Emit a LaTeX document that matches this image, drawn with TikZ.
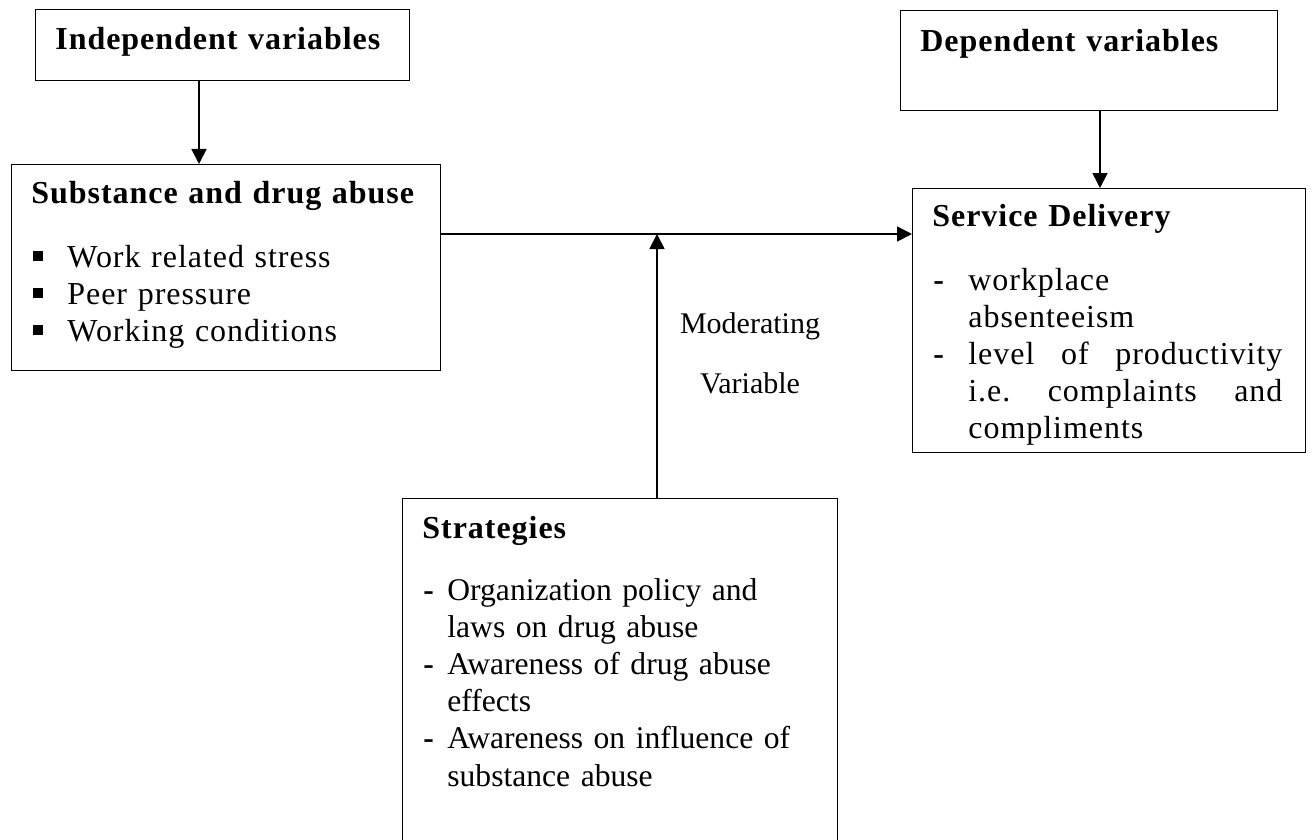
\documentclass[tikz,border=0pt]{standalone}
\usepackage{fontspec}
\setmainfont{Liberation Serif}
\newfontfamily\spc[LetterSpace=3]{Liberation Serif}
\usetikzlibrary{arrows.meta}

\newcommand{\sq}{\makebox[17pt][l]{\rule[3pt]{4.8pt}{5.2pt}}}
\newcommand{\dsh}[1]{\makebox[#1][l]{\textbf{-}}}

\tikzset{
  box/.style={draw, line width=0.7pt, anchor=north west, inner sep=0pt},
  txt/.style={inner sep=0pt, anchor=base west, align=left, font=\fontsize{16}{18.6}\selectfont},
  arr/.style={line width=0.9pt, -{Triangle[length=7.5pt,width=7.5pt]}}
}

\begin{document}
\begin{tikzpicture}[x=0.5pt,y=-0.5pt]
\useasboundingbox (0,0) rectangle (1312,840);

% boxes
\node[box, minimum width=187pt, minimum height=35.5pt] (indep) at (35,9) {};
\node[box, minimum width=214.5pt, minimum height=103pt] (sub) at (11,164) {};
\node[box, minimum width=188.5pt, minimum height=50pt] (dep) at (900,10) {};
\node[box, minimum width=196.5pt, minimum height=132pt] (serv) at (912,188) {};
\node[box, minimum width=217.5pt, minimum height=176pt] (strat) at (402,498) {};

% texts
\node[txt, text width=200pt] (indeptxt) at (55,50) {\spc\bfseries Independent variables};
\node[txt, text width=200pt] (subtitle) at (31,203) {\spc\bfseries Substance and drug abuse};
\node[txt, text width=200pt] (sublist) at (33,267)
  {\spc\sq Work related stress\\ \sq Peer pressure\\ \sq Working conditions};

\node[txt, text width=180pt] (deptxt) at (920,52) {\spc\bfseries Dependent variables};
\node[txt, text width=180pt] (servtitle) at (932,227) {\spc\bfseries Service Delivery};
\node[txt, text width=180pt] (servlist) at (933,290)
  {\spc\dsh{17.5pt}workplace\\
   \hspace*{17.5pt}absenteeism\\
   \dsh{17.5pt}\makebox[157pt][l]{level\hfill of\hfill productivity}\\
   \hspace*{17.5pt}\makebox[157pt][l]{i.e.\hfill complaints\hfill and}\\
   \hspace*{17.5pt}compliments};

\node[txt, text width=200pt] (strattitle) at (422,538) {\spc\bfseries Strategies};
\node[txt, text width=200pt, font=\fontsize{15.8}{18.6}\selectfont] (stratlist) at (423,600)
  {\dsh{12pt}Organization policy and\\
   \hspace*{12pt}laws on drug abuse\\
   \dsh{12pt}Awareness of drug abuse\\
   \hspace*{12pt}effects\\
   \dsh{12pt}Awareness on influence of\\
   \hspace*{12pt}substance abuse};

\node[inner sep=0pt, anchor=base, text width=90pt, align=center,
  font=\fontsize{15}{30}\selectfont] (modtxt) at (750,333) {Moderating\\Variable};

% connectors
\coordinate (hline) at (0,234);
\coordinate (c1) at (199,0);
\coordinate (c2) at (1100,0);
\coordinate (c3) at (657,0);
\draw[arr] (c1 |- indep.south) -- (c1 |- sub.north);
\draw[arr] (c2 |- dep.south) -- (c2 |- serv.north);
\draw[arr] (sub.east |- hline) -- (serv.west |- hline);
\draw[arr] (c3 |- strat.north) -- (c3 |- hline);

\end{tikzpicture}
\end{document}
